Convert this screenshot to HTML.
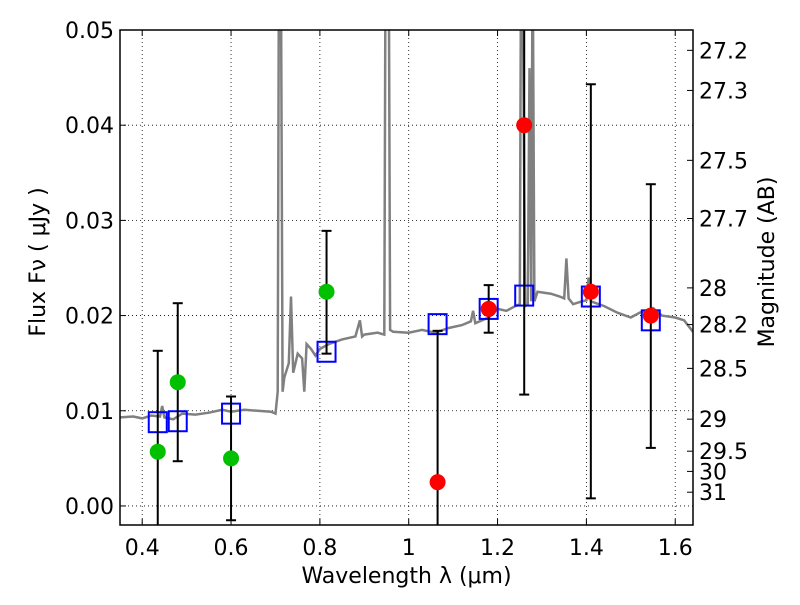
<!DOCTYPE html>
<html><head><meta charset="utf-8"><style>
body{margin:0;background:#fff}
svg text{font-family:"DejaVu Sans","Liberation Sans",sans-serif}
</style></head><body>
<svg id="c" width="800" height="600" xmlns="http://www.w3.org/2000/svg"></svg>
<script>
const xTicks=[0.4,0.6,0.8,1.0,1.2,1.4,1.6];
const xTickLabels=["0.4","0.6","0.8","1","1.2","1.4","1.6"];
const yTicks=[0,0.01,0.02,0.03,0.04,0.05];
const yTickLabels=["0.00","0.01","0.02","0.03","0.04","0.05"];
const magTicks=[27.2,27.3,27.5,27.7,28,28.2,28.5,29,29.5,30,31];
const specX=[0.35,0.38,0.40,0.42,0.44,0.445,0.45,0.47,0.49,0.52,0.55,0.58,0.60,0.63,0.66,0.69,0.70,0.705,0.708,0.712,0.716,0.72,0.73,0.735,0.74,0.75,0.76,0.765,0.77,0.78,0.79,0.80,0.82,0.85,0.88,0.89,0.895,0.90,0.93,0.945,0.948,0.955,0.958,0.965,1.0,1.03,1.06,1.09,1.12,1.14,1.145,1.15,1.18,1.2,1.22,1.24,1.25,1.253,1.256,1.262,1.268,1.272,1.276,1.279,1.283,1.29,1.32,1.34,1.35,1.355,1.36,1.37,1.39,1.40,1.405,1.41,1.44,1.47,1.5,1.52,1.55,1.57,1.6,1.62,1.64];
const specY=[0.0093,0.0094,0.0092,0.0095,0.0094,0.0105,0.0093,0.0091,0.0097,0.0096,0.0098,0.0101,0.0099,0.0101,0.0100,0.0099,0.0097,0.0120,0.0600,0.0600,0.0120,0.0135,0.0150,0.0220,0.0140,0.0160,0.0155,0.0120,0.0170,0.0165,0.0158,0.0165,0.0170,0.0175,0.0178,0.0195,0.0178,0.0180,0.0182,0.0180,0.0600,0.0600,0.0185,0.0183,0.0182,0.0185,0.0182,0.0187,0.0190,0.0194,0.0205,0.0192,0.0198,0.0207,0.0205,0.0210,0.0212,0.0600,0.0600,0.0210,0.0212,0.0460,0.0215,0.0600,0.0215,0.0225,0.0223,0.0220,0.0218,0.0260,0.0218,0.0212,0.0215,0.0216,0.0240,0.0215,0.0210,0.0203,0.0198,0.0203,0.0208,0.0200,0.0198,0.0195,0.0183];
const bandX=[0.435,0.48,0.60,0.815,1.065,1.18,1.26,1.41,1.545];
const modelFlux=[0.0088,0.0089,0.0097,0.0162,0.0191,0.0207,0.0221,0.0220,0.0195];
const greenX=[0.435,0.48,0.60,0.815];
const greenFlux=[0.0057,0.0130,0.0050,0.0225];
const greenHi=[0.0163,0.0213,0.0115,0.0289];
const greenLo=[-0.003,0.0047,-0.0015,0.0160];
const redX=[1.065,1.18,1.26,1.41,1.545];
const redFlux=[0.0025,0.0207,0.0400,0.0225,0.0200];
const redHi=[0.0184,0.0232,0.06,0.0443,0.0338];
const redLo=[-0.003,0.0182,0.0117,0.0008,0.0061];

const L=120,R=693,T=30,B=525,xmin=0.35,xmax=1.64,ymin=-0.002,ymax=0.05;
const sx=v=>L+(v-xmin)/(xmax-xmin)*(R-L);
const sy=v=>B-(v-ymin)/(ymax-ymin)*(B-T);
const svg=document.getElementById('c');
const NS='http://www.w3.org/2000/svg';
function mk(tag,attrs,parent){const e=document.createElementNS(NS,tag);for(const k in attrs)e.setAttribute(k,attrs[k]);(parent||svg).appendChild(e);return e;}
const clip=mk('clipPath',{id:'pc'});mk('rect',{x:L,y:T,width:R-L,height:B-T},clip);
const plot=mk('g',{'clip-path':'url(#pc)'});


// grid
xTicks.forEach((v,i)=>{const g=mk('line',{x1:sx(v),x2:sx(v),y1:T,y2:B,stroke:'#000','stroke-width':0.8,'stroke-dasharray':'1,3'},plot);


const t=mk('text',{x:sx(v),y:B+30,'font-size':22,'text-anchor':'middle'});t.textContent=xTickLabels[i];


mk('line',{x1:sx(v),x2:sx(v),y1:B,y2:B-6,stroke:'#000'});mk('line',{x1:sx(v),x2:sx(v),y1:T,y2:T+6,stroke:'#000'});});
yTicks.forEach((v,i)=>{const g=mk('line',{x1:L,x2:R,y1:sy(v),y2:sy(v),stroke:'#000','stroke-width':0.8,'stroke-dasharray':'1,3'},plot);


const t=mk('text',{x:L-6,y:sy(v)+8,'font-size':22,'text-anchor':'end'});t.textContent=yTickLabels[i];


mk('line',{x1:L,x2:L+6,y1:sy(v),y2:sy(v),stroke:'#000'});});
magTicks.forEach(m=>{const f=Math.pow(10,(23.9-m)/2.5);const y=sy(f);
mk('line',{x1:R,x2:R-6,y1:y,y2:y,stroke:'#000'});
const t=mk('text',{x:R+6,y:y+8,'font-size':22});t.textContent=String(m);

});
// spectrum
let d='';specX.forEach((x,i)=>{d+=(i?'L':'M')+sx(x).toFixed(1)+','+sy(specY[i]).toFixed(1);});
const sp=mk('path',{d:d,fill:'none',stroke:'#808080','stroke-width':2.5},plot);


// model squares
bandX.forEach((x,i)=>{const s=mk('rect',{x:sx(x)-9,y:sy(modelFlux[i])-10,width:18,height:20,fill:'none',stroke:'#0000ff','stroke-width':2},plot);

});
function pts(xs,fs,hi,lo,col,name){xs.forEach((x,i)=>{const X=sx(x);
const e=mk('line',{x1:X,x2:X,y1:sy(hi[i]),y2:sy(lo[i]),stroke:'#000','stroke-width':2},plot);


[hi[i],lo[i]].forEach(v=>mk('line',{x1:X-5,x2:X+5,y1:sy(v),y2:sy(v),stroke:'#000','stroke-width':2},plot));
const c=mk('circle',{cx:X,cy:sy(fs[i]),r:8,fill:col},plot);

});}
pts(greenX,greenFlux,greenHi,greenLo,'#00c000','green-photometry-point');
pts(redX,redFlux,redHi,redLo,'#ff0000','red-photometry-point');
const fr=mk('rect',{x:L,y:T,width:R-L,height:B-T,fill:'none',stroke:'#000','stroke-width':1.5});


const xl=mk('text',{x:(L+R)/2,y:583,'font-size':22,'text-anchor':'middle'});xl.textContent='Wavelength  λ (μm)';


const yl=mk('text',{x:0,y:0,'font-size':22,'text-anchor':'middle',transform:'translate(45,262) rotate(-90)'});yl.textContent='Flux  Fν  ( μJy )';


const ml=mk('text',{x:0,y:0,'font-size':22,'text-anchor':'middle',transform:'translate(774,262) rotate(-90)'});ml.textContent='Magnitude (AB)';


</script>
</body></html>
